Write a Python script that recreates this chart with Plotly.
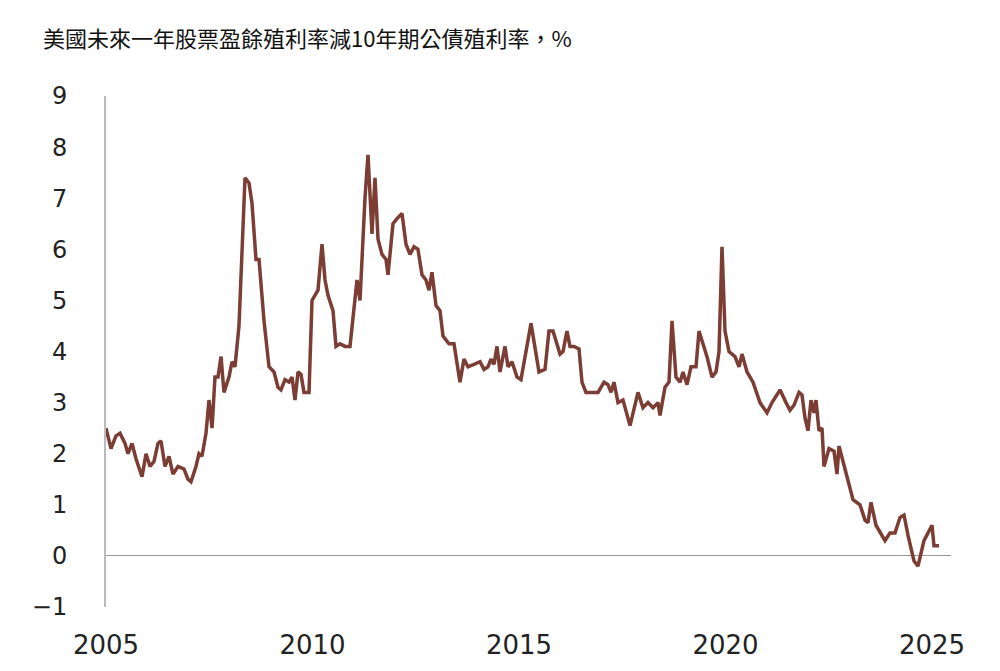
import plotly.graph_objects as go

px_x = [98,103,108,112,117,120,124,128,134,138,142,146,150,153,157,161,165,170,176,180,183,188,191,194,198,201,204,207,210,213,216,221,224,227,231,237,241,244,248,251,256,261,266,270,273,277,281,284,287,290,293,296,301,304,310,314,317,320,325,328,332,337,342,346,349,352,357,360,364,367,370,374,378,380,385,389,394,398,402,406,410,414,418,421,424,428,432,435,441,446,452,456,460,466,472,476,480,483,486,489,492,497,500,504,509,513,523,531,537,541,545,552,555,559,562,566,571,574,578,590,596,600,603,606,610,615,622,630,635,640,645,650,652,657,661,664,668,672,675,679,683,688,691,699,704,708,711,714,717,721,727,731,734,739,745,752,759,764,772,778,782,786,791,794,797,800,803,806,808,811,814,816,821,826,829,831,835,840,845,852,857,860,863,868,871,877,882,887,892,896,900,906,910,916,924,926,931]
values = [2.5,2.1,2.35,2.4,2.2,2.0,2.2,1.9,1.55,2.0,1.75,1.85,2.2,2.25,1.75,1.95,1.6,1.75,1.7,1.5,1.45,1.75,2.0,1.95,2.4,3.05,2.5,3.5,3.5,3.9,3.2,3.5,3.8,3.7,4.5,7.4,7.3,6.9,5.8,5.8,4.6,3.7,3.6,3.3,3.25,3.45,3.4,3.5,3.05,3.6,3.55,3.2,3.2,5.0,5.2,6.1,5.4,5.1,4.8,4.1,4.15,4.1,4.1,4.9,5.4,5.0,7.0,7.85,6.3,7.4,6.2,5.9,5.8,5.5,6.5,6.6,6.7,6.1,5.9,6.05,6.0,5.5,5.4,5.2,5.55,4.9,4.8,4.3,4.15,4.15,3.4,3.85,3.7,3.75,3.8,3.65,3.7,3.85,3.75,4.1,3.6,4.1,3.7,3.8,3.5,3.45,4.55,3.6,3.65,4.4,4.4,3.95,4.0,4.4,4.1,4.1,4.05,3.4,3.2,3.2,3.4,3.35,3.2,3.4,3.0,3.05,2.55,3.2,2.9,3.0,2.9,3.0,2.75,3.3,3.4,4.6,3.5,3.4,3.6,3.35,3.7,3.7,4.4,3.9,3.5,3.6,4.0,6.05,4.4,4.0,3.9,3.7,3.95,3.6,3.4,3.0,2.8,3.0,3.25,3.0,2.85,2.95,3.2,3.15,2.7,2.45,3.05,2.8,3.05,2.45,2.5,1.75,2.1,2.05,1.6,2.15,1.85,1.5,1.1,1.0,0.7,0.65,1.05,0.6,0.5,0.3,0.45,0.45,0.75,0.8,0.4,-0.1,-0.2,0.3,0.6,0.2,0.2]
years = [round(2005 + (p - 98) / 41.3, 3) for p in px_x]

x_ticks = [2005, 2010, 2015, 2020, 2025]
y_ticks = list(range(-1, 10))

fig = go.Figure(go.Scatter(x=years, y=values, mode="lines",
                           line=dict(color="#7b3d34", width=3.5), hoverinfo="skip"))
fig.update_layout(
    width=1000, height=671, plot_bgcolor="white", paper_bgcolor="white",
    margin=dict(l=98, r=57, t=88, b=72), showlegend=False,
    font=dict(family="DejaVu Sans", color="#222"),
    title=dict(text="美國未來一年股票盈餘殖利率減10年期公債殖利率，%", x=0.035, xanchor="left",
               y=0.965, yanchor="top",
               font=dict(size=22, color="#111", family="Noto Sans CJK TC")),
)
fig.update_xaxes(range=[2005, 2025.46], tickvals=x_ticks, showgrid=False, zeroline=False,
                 showline=False, ticks="", automargin=False,
                 tickfont=dict(size=26, color="#222"), ticklabelstandoff=20)
fig.update_yaxes(range=[-1, 9], tickvals=y_ticks, showgrid=False, zeroline=True,
                 zerolinecolor="#999", zerolinewidth=1.2, showline=True, linecolor="#bbb",
                 linewidth=2, ticks="", automargin=False,
                 tickfont=dict(size=24, color="#222"), ticklabelstandoff=32)
fig.write_html("out.html")
